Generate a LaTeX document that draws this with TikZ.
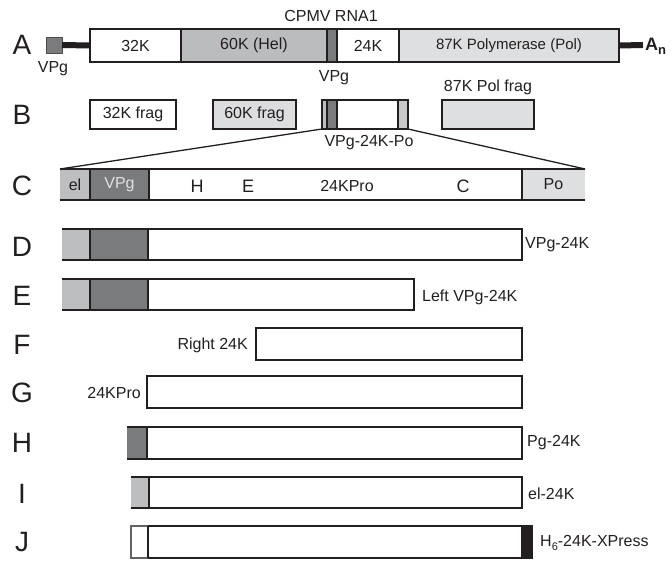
\documentclass[tikz,border=0pt]{standalone}
\usepackage{fontspec}
\setmainfont{Liberation Sans}
\definecolor{ink}{RGB}{35,31,32}
\definecolor{dkg}{RGB}{122,123,125}
\definecolor{mdg}{RGB}{189,190,192}
\definecolor{hel}{RGB}{187,188,190}
\definecolor{ltg}{RGB}{222,223,224}
\definecolor{frg}{RGB}{220,221,222}
\begin{document}
\begin{tikzpicture}[x=1pt,y=-1pt,
  seg/.style={inner sep=0pt, outer sep=0pt, anchor=north west, text=ink,
    font=\fontsize{16}{16}\selectfont},
  bd/.style={line width=2pt, draw=ink},
  conn/.style={line width=1.3pt, draw=ink},
  tail/.style={line width=6pt, draw=ink},
  rowlab/.style={inner sep=0pt, text=ink, font=\fontsize{28}{28}\selectfont},
  lab/.style={inner sep=0pt, text=ink, font=\fontsize{16}{16}\selectfont},
  mlab/.style={inner sep=0pt, text=ink, font=\fontsize{18}{18}\selectfont}]
\useasboundingbox (0,0) rectangle (671,560);

% row letters
\node[rowlab] (LA) at (22,45) {A};
\node[rowlab] (LB) at (22,115) {B};
\node[rowlab] (LC) at (22,186) {C};
\node[rowlab] (LD) at (22,247) {D};
\node[rowlab] (LE) at (22,296) {E};
\node[rowlab] (LF) at (22,345) {F};
\node[rowlab] (LG) at (22,393) {G};
\node[rowlab] (LH) at (22,443) {H};
\node[rowlab] (LI) at (22,494) {I};
\node[rowlab] (LJ) at (22,542) {J};

% ---------- Row A ----------
\node[lab] (title) at (331,16) {CPMV RNA1};
\node[seg, minimum width=16, minimum height=16, fill=dkg, draw=ink!80, line width=1pt] (vpgA) at (46,37) {};
\node[lab] (vpgAl) at (53,69) {VPg};
\node[seg, minimum width=91, minimum height=33, fill=white] (a32) at (90,29) {32K};
\node[seg, minimum width=146, minimum height=33, fill=hel] (a60) at (181,29) {60K (Hel)};
\node[seg, minimum width=10, minimum height=33, fill=dkg] (avpg) at (327,29) {};
\node[seg, minimum width=62, minimum height=33, fill=white] (a24) at (337,29) {24K};
\node[seg, minimum width=220, minimum height=33, fill=ltg, font=\fontsize{15}{15}\selectfont] (a87) at (399,29) {87K Polymerase (Pol)};
\draw[bd] (a32.north west) rectangle (a87.south east);
\draw[bd] (a60.north west) -- (a60.south west);
\draw[bd] (avpg.north west) -- (avpg.south west);
\draw[bd] (a24.north west) -- (a24.south west);
\draw[bd] (a87.north west) -- (a87.south west);
\draw[tail] (vpgA.east) -- (a32.west);
\coordinate (polyA) at (643,45);
\draw[tail] (a87.east) -- (polyA);
\node[inner sep=0pt, anchor=west, text=ink, font=\fontsize{18}{18}\selectfont\bfseries] (An) at (645,46) {A\raisebox{-0.45ex}{\fontsize{13}{13}\selectfont n}};
\node[lab] (vpgAl2) at (334,78) {VPg};

% ---------- Row B ----------
\node[seg, minimum width=86, minimum height=29, fill=white, draw=ink, line width=2pt] (b32) at (90,100) {32K frag};
\node[seg, minimum width=83, minimum height=29, fill=frg, draw=ink, line width=2pt] (b60) at (213,100) {60K frag};
\node[seg, minimum width=5, minimum height=29, fill=mdg] (bel) at (322,100) {};
\node[seg, minimum width=10, minimum height=29, fill=dkg] (bvpg) at (327,100) {};
\node[seg, minimum width=61, minimum height=29, fill=white] (bw) at (337,100) {};
\node[seg, minimum width=10, minimum height=29, fill=ltg!90!black] (bpo) at (398,100) {};
\draw[bd] (bel.north west) rectangle (bpo.south east);
\draw[line width=1.2pt, draw=ink] (bvpg.north west) -- (bvpg.south west);
\draw[line width=1.2pt, draw=ink] (bw.north west) -- (bw.south west);
\draw[line width=1.2pt, draw=ink] (bpo.north west) -- (bpo.south west);
\node[seg, minimum width=92, minimum height=29, fill=ltg, draw=ink, line width=2pt] (b87) at (442,100) {};
\node[lab] (b87l) at (488,87) {87K Pol frag};
\node[lab] (bsl) at (369,143) {VPg-24K-Po};

% ---------- Row C ----------
\node[seg, minimum width=30, minimum height=31, fill=mdg] (cel) at (60,169) {el};
\node[seg, minimum width=59, minimum height=31, fill=dkg, text=white!88!black] (cvpg) at (90,169) {VPg};
\node[seg, minimum width=373, minimum height=31, fill=white] (cw) at (149,169) {};
\node[seg, minimum width=63, minimum height=31, fill=ltg] (cpo) at (522,169) {Po};
\draw[bd] (cel.north west) -- (cpo.north east);
\draw[bd] (cel.south west) -- (cpo.south east);
\draw[bd] (cvpg.north west) -- (cvpg.south west);
\draw[bd] (cw.north west) -- (cw.south west);
\draw[bd] (cpo.north west) -- (cpo.south west);
\node[mlab] (cH) at (197,186) {H};
\node[mlab] (cE) at (248,186) {E};
\node[lab] (cP) at (347,186) {24KPro};
\node[mlab] (cC) at (463,186) {C};
\draw[conn] (bel.south west) -- (cel.north west);
\draw[conn] (bpo.south east) -- (cpo.north east);

% ---------- Row D ----------
\node[seg, minimum width=28, minimum height=31, fill=mdg] (dl) at (62,229) {};
\node[seg, minimum width=58, minimum height=31, fill=dkg] (dd) at (90,229) {};
\node[seg, minimum width=374, minimum height=31, fill=white] (dw) at (148,229) {};
\draw[bd] (dl.north west) -- (dw.north east) -- (dw.south east) -- (dl.south west);
\draw[bd] (dd.north west) -- (dd.south west);
\draw[bd] (dw.north west) -- (dw.south west);
\node[lab, anchor=west] (dlab) at (525,245) {VPg-24K};

% ---------- Row E ----------
\node[seg, minimum width=28, minimum height=31, fill=mdg] (el) at (62,279) {};
\node[seg, minimum width=58, minimum height=31, fill=dkg] (ed) at (90,279) {};
\node[seg, minimum width=266, minimum height=31, fill=white] (ew) at (148,279) {};
\draw[bd] (el.north west) -- (ew.north east) -- (ew.south east) -- (el.south west);
\draw[bd] (ed.north west) -- (ed.south west);
\draw[bd] (ew.north west) -- (ew.south west);
\node[lab, anchor=west] (elab) at (422,297) {Left VPg-24K};

% ---------- Row F ----------
\node[seg, minimum width=266, minimum height=32, fill=white, draw=ink, line width=2pt] (fw) at (256,328) {};
\node[lab, anchor=east] (flab) at (248,345) {Right 24K};

% ---------- Row G ----------
\node[seg, minimum width=375, minimum height=32, fill=white, draw=ink, line width=2pt] (gw) at (147,376) {};
\node[lab, anchor=east] (glab) at (141,393) {24KPro};

% ---------- Row H ----------
\node[seg, minimum width=20, minimum height=32, fill=dkg] (hd) at (127,427) {};
\node[seg, minimum width=375, minimum height=32, fill=white] (hw) at (147,427) {};
\draw[bd] (hd.north west) -- (hw.north east) -- (hw.south east) -- (hd.south west);
\draw[bd] (hw.north west) -- (hw.south west);
\node[lab, anchor=west] (hlab) at (527,443) {Pg-24K};

% ---------- Row I ----------
\node[seg, minimum width=18, minimum height=31, fill=mdg] (il) at (131,477) {};
\node[seg, minimum width=373, minimum height=31, fill=white] (iw) at (149,477) {};
\draw[bd] (il.north west) -- (iw.north east) -- (iw.south east) -- (il.south west);
\draw[bd] (iw.north west) -- (iw.south west);
\node[lab, anchor=west] (ilab) at (528,494) {el-24K};

% ---------- Row J ----------
\node[seg, minimum width=17, minimum height=32, fill=white, draw=ink!70, line width=1.2pt] (jw0) at (131,526) {};
\node[seg, minimum width=373, minimum height=32, fill=white] (jw) at (148,526) {};
\draw[bd] (jw0.north east) -- (jw.north east);
\draw[bd] (jw0.south east) -- (jw.south east);
\draw[bd] (jw.north west) -- (jw.south west);
\node[seg, minimum width=12, minimum height=34, fill=ink] (jb) at (521,525) {};
\node[lab, anchor=west] (jlab) at (540,543) {H\raisebox{-0.5ex}{\fontsize{11}{11}\selectfont 6}-24K-XPress};
\end{tikzpicture}
\end{document}
